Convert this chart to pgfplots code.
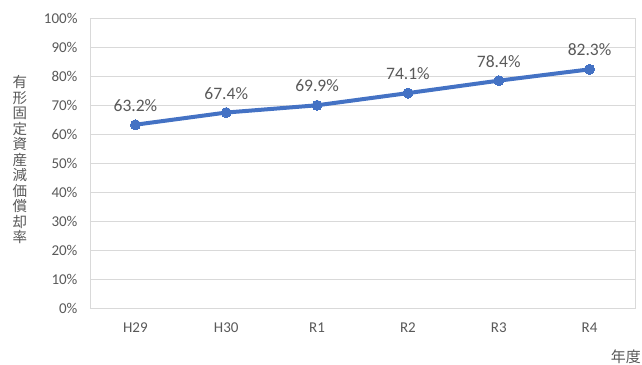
\documentclass[border=0pt]{standalone}
\usepackage{pgfplots}
\pgfplotsset{compat=1.18}
\usepackage{fontspec}
\setmainfont{Carlito}
\newfontfamily\jp{Noto Sans CJK JP}
\definecolor{txt}{HTML}{595959}
\definecolor{grd}{HTML}{D9D9D9}
\definecolor{ln}{HTML}{4472C4}
\begin{document}
\begin{tikzpicture}
\path[use as bounding box] (-90pt,-56pt) rectangle (552pt,308pt);
\begin{axis}[
  at={(0pt,0pt)}, anchor=south west,
  scale only axis, width=545pt, height=290pt,
  xmin=-0.5, xmax=5.5, ymin=0, ymax=100,
  xtick={0,1,2,3,4,5},
  xticklabels={H29,H30,R1,R2,R3,R4},
  ytick={0,10,...,100},
  yticklabel={\pgfmathprintnumber{\tick}\%},
  /pgf/number format/assume math mode=true,
  ymajorgrids, grid style={grd, line width=0.8pt},
  axis line style={grd, line width=0.8pt},
  major tick length=0pt,
  tick label style={font=\fontsize{15}{17}\selectfont, text=txt},
  xticklabel style={yshift=-11pt},
  yticklabel style={xshift=-9pt},
  nodes near coords={\pgfmathprintnumber[fixed,fixed zerofill,precision=1]{\pgfplotspointmeta}\%},
  every node near coord/.append style={font=\fontsize{17.5}{19}\selectfont, text=txt, yshift=10pt},
]
\addplot[ln, line width=4pt, mark=*, mark size=5pt, mark options={fill=ln, draw=ln, line width=0pt}] coordinates {
(0,63.2) (1,67.4) (2,69.9) (3,74.1) (4,78.4) (5,82.3)};
\end{axis}
\node[text=txt, font=\jp\fontsize{14.5}{15.5}\selectfont, align=center, inner sep=0pt] at (-70pt,148pt)
 {有\\形\\固\\定\\資\\産\\減\\価\\償\\却\\率};
\node[text=txt, font=\jp\fontsize{15}{17}\selectfont, anchor=east, inner sep=0pt] at (551pt,-49pt) {年度};
\end{tikzpicture}
\end{document}
